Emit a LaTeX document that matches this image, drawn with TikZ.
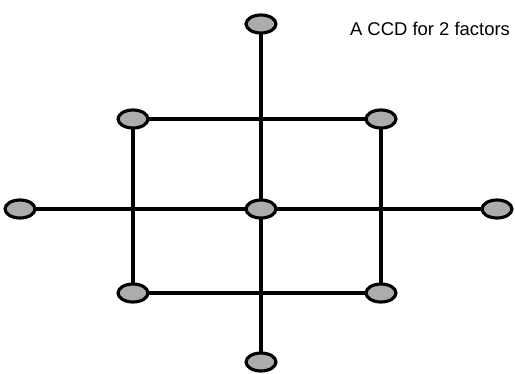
\documentclass[tikz,border=0pt]{standalone}
\usepackage{fontspec}
\setmainfont{Liberation Sans}
\usetikzlibrary{shapes.geometric,backgrounds}

\tikzset{
  pt/.style={ellipse, draw, line width=1.8pt, fill=gray!65, minimum width=0.6cm, minimum height=0.36cm, inner sep=0pt},
  arm/.style={line width=2.1pt}
}

\begin{document}
\begin{tikzpicture}[x=0.02cm, y=-0.02cm]
\useasboundingbox (0,0) rectangle (515,373);
% design points
\node[pt] (top) at (261,24) {};
\node[pt] (bot) at (261,362) {};
\node[pt] (lft) at (20,209) {};
\node[pt] (rgt) at (497,209) {};
\node[pt] (ctr) at (261,209) {};
\node[pt] (tl) at (133,119) {};
\node[pt] (tr) at (381,119) {};
\node[pt] (bl) at (133,293) {};
\node[pt] (br) at (381,293) {};
\node[font=\fontsize{10.5}{12}\selectfont] (title) at (430,29) {A CCD for 2 factors};
\begin{pgfonlayer}{background}
\draw[arm] (top.center) -- (bot.center);
\draw[arm] (lft.center) -- (rgt.center);
\draw[arm] (tl.center) -- (tr.center) -- (br.center) -- (bl.center) -- cycle;
\end{pgfonlayer}
\end{tikzpicture}
\end{document}
